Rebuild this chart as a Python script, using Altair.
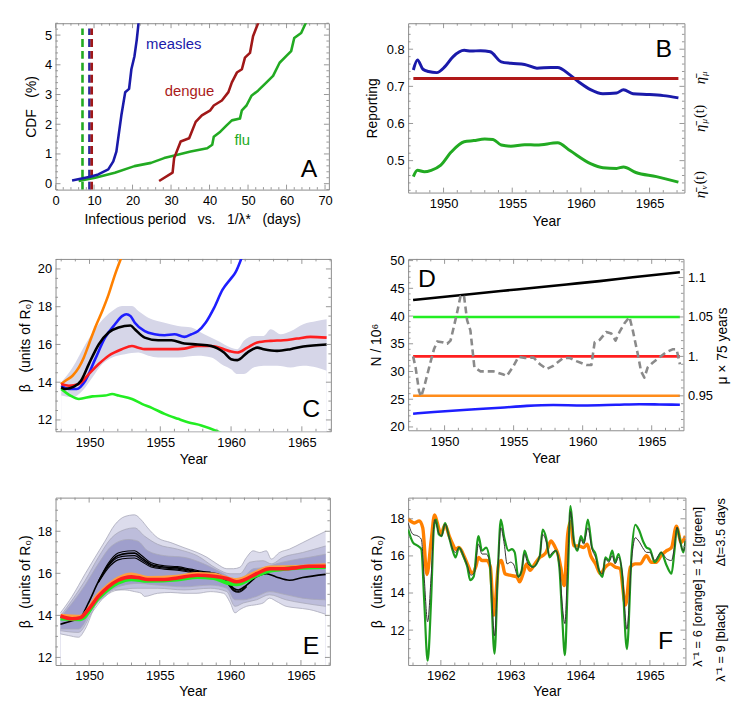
import altair as alt
import numpy as np
import pandas as pd

FONT = "Liberation Sans"
FRAME = "#8c8c8c"
NB = "\u00a0"

# ---------------- Panel A : CDF of infectious period ----------------
A_measles_x = [4.3, 9.0, 11.1, 13.7, 15.0, 15.8, 16.4, 17.1, 18.1, 19.1, 19.7, 20.5, 21.1, 21.6]
A_measles_y = [0.11, 0.23, 0.31, 0.48, 0.75, 1.08, 1.64, 2.30, 3.08, 3.19, 3.85, 4.29, 4.85, 5.45]
A_dengue_x = [26.9, 30.4, 30.8, 32.5, 34.7, 36.4, 38.0, 40.2, 41.1, 43.2, 44.9, 45.8, 47.1, 48.4, 49.2, 50.5, 51.3, 52.6, 53.0]
A_dengue_y = [0.09, 0.37, 0.86, 1.42, 1.53, 2.08, 2.30, 2.47, 2.63, 2.80, 3.08, 3.41, 3.74, 3.85, 4.24, 4.40, 4.96, 5.40, 5.50]
A_flu_x = [6.0, 10.3, 15.4, 20.5, 24.8, 28.2, 31.7, 35.1, 39.4, 40.7, 41.1, 42.8, 44.5, 45.8, 47.9, 48.4, 49.6, 50.9, 52.6, 54.8, 56.5, 58.2, 59.9, 61.2, 62.0, 63.8, 64.9, 65.3]
A_flu_y = [0.09, 0.20, 0.37, 0.59, 0.70, 0.86, 0.97, 1.08, 1.19, 1.31, 1.58, 1.75, 1.97, 2.13, 2.19, 2.47, 2.63, 2.96, 3.13, 3.41, 3.63, 4.07, 4.29, 4.46, 4.90, 5.07, 5.38, 5.50]
A_vlines_x = [7.0, 8.8, 9.4]
A_vlines_color = ["#22aa22", "#2a2aa0", "#a01818"]
A_vline_top = 5.22
A_labels = ["measles", "dengue", "flu"]
A_labels_x = [30.7, 34.8, 48.5]
A_labels_y = [4.70, 3.13, 1.47]
A_labels_color = ["#1a1aaa", "#aa1a1a", "#22aa22"]

# ---------------- Panel B : reporting ----------------
B_blue_x = [1947.8, 1948.1, 1948.5, 1948.9, 1949.5, 1950.1, 1950.7, 1951.5, 1952.0, 1952.7, 1953.4, 1954.2, 1954.9, 1955.9, 1956.8, 1957.8, 1958.3, 1959.2, 1959.95, 1960.7, 1961.6, 1962.6, 1963.1, 1963.8, 1965.0, 1966.0, 1967.1]
B_blue_y = [0.744, 0.771, 0.746, 0.740, 0.737, 0.753, 0.780, 0.797, 0.795, 0.796, 0.793, 0.766, 0.762, 0.759, 0.749, 0.751, 0.751, 0.731, 0.709, 0.691, 0.680, 0.682, 0.691, 0.680, 0.678, 0.675, 0.669]
B_green_x = [1947.8, 1948.1, 1948.6, 1949.1, 1949.8, 1950.55, 1951.5, 1952.2, 1953.0, 1953.6, 1954.2, 1954.9, 1955.9, 1956.8, 1958.3, 1959.2, 1960.7, 1961.6, 1962.6, 1963.1, 1964.0, 1965.5, 1967.1]
B_green_y = [0.457, 0.474, 0.470, 0.474, 0.488, 0.523, 0.551, 0.554, 0.558, 0.557, 0.542, 0.539, 0.543, 0.542, 0.548, 0.527, 0.492, 0.481, 0.479, 0.483, 0.468, 0.457, 0.442]
B_red_x = [1947.8, 1967.1]
B_red_y = [0.721, 0.721]

# ---------------- Panel C : beta estimates ----------------
C_orange_x = [1947.97, 1948.3, 1948.8, 1949.25, 1949.6, 1949.95, 1950.4, 1950.9, 1951.35, 1951.8, 1952.3]
C_orange_y = [13.9, 14.08, 14.34, 14.78, 15.31, 16.0, 16.9, 17.77, 18.65, 19.7, 20.7]
C_blue_x = [1948.0, 1948.55, 1949.1, 1949.7, 1950.4, 1951.1, 1951.8, 1952.3, 1952.6, 1952.9, 1953.2, 1953.9, 1954.6, 1955.3, 1956.0, 1956.7, 1957.2, 1957.65, 1958.2, 1958.8, 1959.4, 1960.0, 1960.3, 1960.8]
C_blue_y = [13.8, 13.64, 13.64, 14.08, 15.22, 16.36, 17.07, 17.5, 17.6, 17.5, 17.15, 16.7, 16.54, 16.49, 16.54, 16.4, 16.54, 16.7, 17.15, 17.94, 18.9, 19.5, 19.8, 20.7]
C_black_x = [1948.0, 1948.3, 1948.9, 1949.4, 1949.95, 1950.65, 1951.35, 1952.05, 1952.9, 1953.2, 1953.9, 1954.85, 1955.8, 1956.7, 1957.65, 1958.6, 1959.5, 1960.0, 1960.45, 1961.15, 1961.85, 1962.3, 1963.25, 1964.2, 1965.1, 1966.75]
C_black_y = [13.73, 13.64, 13.76, 14.08, 14.96, 16.0, 16.63, 16.9, 17.0, 16.8, 16.36, 16.22, 16.22, 16.05, 16.0, 15.92, 15.57, 15.22, 15.17, 15.57, 15.83, 15.75, 15.66, 15.75, 15.89, 16.0]
C_red_x = [1948.0, 1948.55, 1949.25, 1949.95, 1950.65, 1951.35, 1952.3, 1953.0, 1953.45, 1953.9, 1954.85, 1955.8, 1956.7, 1957.65, 1958.6, 1959.5, 1960.0, 1960.45, 1961.15, 1961.85, 1962.8, 1963.7, 1964.65, 1965.6, 1966.75]
C_red_y = [13.9, 13.81, 13.9, 14.43, 14.96, 15.4, 15.75, 15.92, 15.83, 15.75, 15.75, 15.75, 15.78, 15.92, 15.92, 15.75, 15.62, 15.57, 15.83, 16.1, 16.19, 16.22, 16.31, 16.4, 16.36]
C_green_x = [1948.0, 1948.65, 1949.25, 1950.2, 1951.1, 1951.6, 1952.05, 1953.0, 1953.7, 1954.4, 1955.3, 1956.25, 1956.95, 1957.9, 1959.05, 1959.3]
C_green_y = [13.64, 13.29, 13.11, 13.25, 13.29, 13.37, 13.29, 13.11, 12.85, 12.64, 12.32, 12.06, 11.88, 11.71, 11.39, 11.3]
C_band_hi_x = [1948.0, 1948.8, 1949.7, 1950.65, 1951.6, 1952.3, 1953.0, 1953.45, 1954.15, 1955.3, 1956.25, 1957.2, 1958.1, 1959.05, 1960.0, 1960.45, 1960.9, 1961.6, 1962.3, 1962.8, 1963.5, 1964.2, 1965.1, 1966.05, 1966.75]
C_band_hi_y = [13.99, 14.78, 16.0, 17.07, 17.77, 18.03, 18.03, 17.77, 17.42, 17.15, 16.98, 16.9, 16.54, 16.19, 15.83, 15.75, 16.19, 16.45, 16.45, 16.8, 16.54, 16.7, 17.07, 17.24, 17.33]
C_band_lo_x = [1948.0, 1948.8, 1949.5, 1950.2, 1950.9, 1951.6, 1952.5, 1953.45, 1954.15, 1954.85, 1956.25, 1957.65, 1958.6, 1959.5, 1960.0, 1960.45, 1960.9, 1961.6, 1962.3, 1963.25, 1964.2, 1965.1, 1966.05, 1966.75]
C_band_lo_y = [13.29, 13.2, 13.55, 14.25, 14.96, 15.31, 15.48, 15.57, 15.4, 15.31, 15.31, 15.4, 15.31, 14.87, 14.69, 14.43, 14.43, 14.78, 14.87, 14.87, 14.78, 14.87, 14.78, 14.6]

# ---------------- Panel D : population and birth rate ----------------
D_black_x = [1947.72, 1951.63, 1955.23, 1958.83, 1961.23, 1963.63, 1967.04]
D_black_y = [42.9, 43.9, 44.8, 45.7, 46.3, 47.0, 47.9]
D_blue_x = [1947.72, 1949.23, 1951.63, 1954.03, 1955.95, 1957.87, 1960.03, 1962.43, 1964.11, 1965.55, 1967.04]
D_blue_y = [22.39, 22.68, 23.1, 23.46, 23.8, 23.95, 23.88, 24.0, 24.1, 24.06, 24.0]
D_mu_levels = [1.05, 1.0, 0.95]
D_mu_colors = ["#22ee22", "#ff2020", "#ff8c1a"]
D_mu_span = [1947.72, 1967.04]
D_dash_x = [1947.72, 1947.9, 1948.15, 1948.3, 1948.5, 1948.75, 1949.0, 1949.23, 1949.47, 1949.83, 1950.19, 1950.43, 1950.67, 1950.9, 1951.15, 1951.4, 1951.63, 1951.87, 1952.16, 1952.6, 1953.55, 1954.27, 1954.5, 1955.0, 1955.35, 1955.83, 1956.43, 1956.91, 1957.39, 1957.87, 1958.59, 1959.07, 1959.55, 1960.27, 1960.63, 1960.87, 1961.23, 1961.71, 1962.07, 1962.38, 1962.67, 1963.03, 1963.39, 1963.63, 1963.99, 1964.23, 1964.47, 1964.71, 1965.07, 1965.55, 1966.03, 1966.51, 1966.8, 1967.04]
D_dash_y = [1.0, 0.986, 0.956, 0.949, 0.960, 0.977, 0.994, 1.009, 1.019, 1.018, 1.016, 1.020, 1.0375, 1.055, 1.076, 1.078, 1.046, 1.033, 0.986, 0.981, 0.981, 0.977, 0.975, 0.988, 0.9996, 0.998, 0.9987, 0.990, 0.984, 0.988, 0.998, 0.998, 0.994, 0.989, 0.989, 1.018, 1.021, 1.031, 1.029, 1.020, 1.031, 1.042, 1.050, 1.033, 1.003, 0.981, 0.973, 0.986, 0.992, 0.9987, 1.005, 1.009, 1.009, 0.990]

# ---------------- Panel E : beta with credible bands ----------------
E_outer_hi_x = [1947.97, 1948.79, 1949.72, 1950.42, 1951.12, 1951.82, 1952.52, 1953.22, 1953.69, 1954.15, 1954.85, 1955.79, 1956.72, 1957.65, 1958.35, 1959.05, 1959.75, 1960.22, 1960.68, 1961.15, 1961.62, 1962.08, 1962.55, 1962.9, 1963.48, 1964.18, 1965.12, 1966.05, 1966.75]
E_outer_hi_y = [14.12, 14.9, 15.98, 16.76, 17.53, 18.31, 18.7, 18.78, 18.54, 18.16, 17.69, 17.46, 17.22, 16.99, 16.76, 16.45, 16.22, 16.22, 16.29, 16.76, 17.07, 16.99, 17.07, 16.68, 16.99, 17.15, 17.46, 17.77, 18.0]
E_outer_lo_x = [1947.97, 1948.55, 1949.25, 1949.72, 1950.42, 1951.12, 1951.82, 1952.52, 1953.22, 1953.69, 1953.92, 1954.85, 1955.79, 1956.72, 1957.65, 1958.58, 1959.52, 1960.0, 1960.33, 1960.68, 1961.15, 1961.85, 1962.32, 1962.78, 1963.25, 1963.95, 1964.65, 1965.58, 1966.75]
E_outer_lo_y = [13.12, 13.04, 12.96, 13.35, 14.43, 14.9, 15.21, 15.21, 15.13, 15.05, 14.9, 15.05, 15.09, 15.05, 15.05, 15.13, 15.05, 14.59, 14.12, 14.28, 14.43, 14.51, 14.59, 14.82, 14.67, 14.43, 14.36, 14.28, 14.05]
E_mid_hi_x = [1947.97, 1949.72, 1950.65, 1951.59, 1952.52, 1953.22, 1953.92, 1954.85, 1956.25, 1957.65, 1959.05, 1959.98, 1960.68, 1961.38, 1962.32, 1962.9, 1963.72, 1965.12, 1966.75]
E_mid_hi_y = [13.97, 15.67, 16.76, 17.69, 18.08, 18.16, 17.77, 17.38, 17.15, 16.84, 16.22, 15.98, 15.98, 16.53, 16.6, 16.45, 16.76, 16.99, 17.3]
E_mid_lo_x = [1947.97, 1949.25, 1950.19, 1951.12, 1952.05, 1953.45, 1954.85, 1956.72, 1958.58, 1959.75, 1960.33, 1960.92, 1961.85, 1962.78, 1963.95, 1965.12, 1966.75]
E_mid_lo_y = [13.27, 13.19, 14.12, 14.9, 15.21, 15.29, 15.29, 15.21, 15.29, 15.13, 14.43, 14.59, 14.74, 14.98, 14.74, 14.59, 14.43]
E_in_hi_x = [1947.97, 1949.72, 1950.65, 1951.59, 1952.75, 1953.45, 1954.15, 1955.32, 1956.72, 1958.12, 1959.52, 1960.22, 1960.92, 1961.62, 1962.55, 1963.25, 1964.18, 1965.58, 1966.75]
E_in_hi_y = [13.89, 15.44, 16.45, 17.3, 17.61, 17.53, 17.07, 16.84, 16.76, 16.45, 15.98, 15.75, 15.83, 16.22, 16.29, 16.45, 16.6, 16.76, 16.91]
E_in_lo_x = [1947.97, 1949.25, 1950.19, 1951.12, 1952.05, 1953.45, 1954.85, 1956.72, 1958.58, 1959.75, 1960.33, 1960.92, 1961.85, 1962.78, 1963.95, 1965.12, 1966.75]
E_in_lo_y = [13.35, 13.35, 14.28, 14.98, 15.36, 15.52, 15.44, 15.36, 15.44, 15.29, 14.74, 14.74, 14.9, 15.13, 14.98, 14.82, 14.74]
E_black_x = [1947.97, 1948.79, 1949.37, 1949.95, 1950.65, 1951.35, 1952.05, 1952.75, 1953.22, 1953.69, 1954.39, 1955.32, 1956.25, 1957.18, 1958.12, 1959.05, 1959.75, 1960.22, 1960.57, 1961.15, 1961.85, 1962.55, 1963.25, 1964.18, 1965.12, 1966.75]
E_black_y = [13.58, 13.74, 13.89, 14.59, 15.6, 16.4, 16.85, 16.95, 16.96, 16.75, 16.42, 16.3, 16.26, 16.14, 16.03, 15.98, 15.67, 15.29, 15.21, 15.44, 15.83, 15.98, 15.83, 15.67, 15.8, 15.95]
E_black2_x = [1950.65, 1951.35, 1952.05, 1952.75, 1953.22, 1953.69, 1954.39, 1955.32, 1956.25, 1957.18, 1958.12, 1958.6]
E_black2_y = [15.62, 16.48, 16.97, 17.06, 17.07, 16.86, 16.5, 16.36, 16.32, 16.2, 16.08, 16.06]
E_black3_x = [1950.65, 1951.35, 1952.05, 1952.75, 1953.22, 1953.69, 1954.39, 1955.32, 1956.25, 1957.18, 1958.12, 1959.05, 1959.75, 1960.22, 1960.57, 1961.15]
E_black3_y = [15.58, 16.33, 16.75, 16.83, 16.84, 16.66, 16.36, 16.25, 16.2, 16.09, 15.99, 15.93, 15.6, 15.22, 15.14, 15.4]
E_black4_x = [1950.65, 1951.35, 1952.05, 1952.75, 1953.22, 1953.69, 1954.39, 1955.32, 1956.25, 1957.18, 1958.12, 1959.05, 1959.75, 1960.22, 1960.57, 1961.15]
E_black4_y = [15.55, 16.25, 16.64, 16.72, 16.73, 16.57, 16.3, 16.2, 16.15, 16.05, 15.95, 15.9, 15.55, 15.17, 15.1, 15.36]
E_red_x = [1947.97, 1948.79, 1949.37, 1949.95, 1950.65, 1951.35, 1952.05, 1952.99, 1953.45, 1954.15, 1955.32, 1956.25, 1957.65, 1958.82, 1959.75, 1960.45, 1960.92, 1961.85, 1962.78, 1963.72, 1964.65, 1965.58, 1966.75]
E_red_y = [13.97, 13.84, 13.89, 14.28, 14.9, 15.36, 15.67, 15.83, 15.8, 15.71, 15.71, 15.78, 15.91, 15.86, 15.75, 15.6, 15.67, 15.98, 16.22, 16.22, 16.26, 16.34, 16.34]
E_orange_x = [1947.97, 1949.37, 1950.65, 1952.05, 1952.99, 1954.15, 1956.25, 1957.65, 1958.82, 1960.45, 1961.85, 1962.78, 1964.65, 1966.75]
E_orange_y = [13.98, 13.93, 14.97, 15.75, 15.95, 15.78, 15.84, 15.97, 15.93, 15.68, 16.05, 16.28, 16.3, 16.38]
E_green_x = [1947.97, 1949.37, 1950.65, 1952.05, 1952.99, 1954.15, 1956.25, 1957.65, 1958.82, 1959.75, 1960.45, 1961.85, 1962.78, 1963.72, 1964.65, 1966.75]
E_green_y = [13.85, 13.82, 14.82, 15.55, 15.72, 15.64, 15.7, 15.83, 15.78, 15.55, 15.48, 15.9, 16.12, 16.2, 16.25, 16.3]

# ---------------- Panel F : beta, 1961-1965 ----------------
F_orange = [(1961.53, 18.0), (1961.62, 17.77), (1961.69, 17.89), (1961.74, 17.51), (1961.8, 15.0), (1961.86, 16.8),
            (1961.91, 18.21), (1961.95, 17.77), (1962.0, 17.16), (1962.06, 17.68), (1962.12, 17.07), (1962.17, 16.63),
            (1962.21, 16.36), (1962.26, 16.45), (1962.33, 16.01), (1962.38, 15.57), (1962.45, 15.08), (1962.5, 15.4),
            (1962.54, 15.92), (1962.59, 15.75), (1962.66, 15.75), (1962.71, 15.4), (1962.76, 12.8), (1962.83, 15.57),
            (1962.87, 15.75), (1962.92, 15.04), (1962.99, 14.96), (1963.09, 14.87), (1963.13, 14.6), (1963.18, 15.04),
            (1963.23, 15.57), (1963.28, 15.22), (1963.35, 15.57), (1963.42, 15.92), (1963.46, 16.01), (1963.51, 16.19),
            (1963.58, 16.8), (1963.63, 16.54), (1963.68, 16.1), (1963.72, 15.4), (1963.77, 14.4), (1963.82, 17.16),
            (1963.86, 17.86), (1963.91, 16.54), (1963.98, 16.54), (1964.05, 16.45), (1964.1, 16.63), (1964.15, 16.01),
            (1964.22, 15.57), (1964.29, 15.04), (1964.36, 15.4), (1964.43, 15.57), (1964.5, 15.4), (1964.57, 15.31),
            (1964.65, 13.35), (1964.72, 15.4), (1964.79, 15.57), (1964.86, 15.57), (1964.95, 16.01), (1965.02, 15.66),
            (1965.09, 15.66), (1965.16, 16.01), (1965.24, 16.28), (1965.31, 16.45), (1965.38, 17.6), (1965.45, 16.72),
            (1965.51, 17.07)]
F_green = [(1961.53, 17.42), (1961.6, 16.72), (1961.67, 16.54), (1961.72, 16.36), (1961.76, 13.64), (1961.81, 10.35),
           (1961.86, 13.64), (1961.9, 17.51), (1961.93, 17.95), (1961.97, 17.16), (1962.01, 17.07), (1962.06, 17.77),
           (1962.12, 16.98), (1962.17, 16.28), (1962.21, 15.92), (1962.26, 16.45), (1962.33, 15.92), (1962.38, 15.4),
           (1962.42, 14.69), (1962.47, 14.87), (1962.54, 17.07), (1962.59, 16.28), (1962.65, 16.45), (1962.7, 15.75),
           (1962.77, 10.73), (1962.82, 15.4), (1962.86, 17.95), (1962.91, 16.98), (1962.97, 16.28), (1963.02, 16.36),
           (1963.06, 16.19), (1963.11, 14.87), (1963.16, 15.22), (1963.2, 16.28), (1963.25, 15.75), (1963.32, 15.4),
           (1963.42, 16.01), (1963.46, 17.42), (1963.51, 16.98), (1963.56, 15.92), (1963.6, 16.1), (1963.65, 16.28),
           (1963.7, 15.4), (1963.74, 12.76), (1963.78, 10.65), (1963.82, 14.52), (1963.86, 18.69), (1963.91, 16.8),
           (1963.96, 16.28), (1964.01, 17.07), (1964.05, 16.72), (1964.11, 17.95), (1964.17, 16.45), (1964.22, 16.1),
           (1964.27, 15.22), (1964.32, 14.87), (1964.36, 15.92), (1964.41, 15.75), (1964.46, 16.28), (1964.5, 15.66),
           (1964.55, 16.1), (1964.6, 15.04), (1964.67, 10.98), (1964.74, 16.28), (1964.79, 17.68), (1964.84, 17.42),
           (1964.91, 16.72), (1964.95, 16.45), (1965.0, 16.36), (1965.07, 15.66), (1965.12, 15.92), (1965.16, 16.19),
           (1965.24, 15.48), (1965.31, 15.04), (1965.35, 16.19), (1965.39, 17.51), (1965.43, 16.89), (1965.48, 16.19),
           (1965.51, 16.8)]
F_black = [(1961.53, 17.77), (1961.6, 17.16), (1961.67, 17.07), (1961.72, 16.89), (1961.76, 14.87), (1961.81, 12.45),
           (1961.86, 14.87), (1961.91, 17.95), (1961.97, 17.24), (1962.01, 17.07), (1962.06, 17.72), (1962.12, 16.98),
           (1962.17, 16.36), (1962.21, 16.19), (1962.26, 16.45), (1962.33, 15.96), (1962.38, 15.48), (1962.43, 14.96),
           (1962.48, 15.08), (1962.54, 16.63), (1962.59, 16.1), (1962.65, 16.1), (1962.7, 15.66), (1962.77, 11.7),
           (1962.82, 15.4), (1962.86, 17.51), (1962.91, 16.63), (1962.95, 15.57), (1963.0, 15.66), (1963.04, 15.57),
           (1963.11, 14.87), (1963.16, 15.22), (1963.2, 16.1), (1963.25, 15.57), (1963.32, 15.4), (1963.42, 16.01),
           (1963.46, 17.16), (1963.51, 16.8), (1963.56, 16.01), (1963.6, 16.19), (1963.65, 16.28), (1963.7, 15.57),
           (1963.74, 13.46), (1963.78, 12.35), (1963.82, 15.57), (1963.86, 18.39), (1963.91, 16.72), (1963.96, 16.36),
           (1964.01, 16.89), (1964.05, 16.63), (1964.11, 17.51), (1964.17, 16.36), (1964.22, 15.92), (1964.27, 15.22),
           (1964.32, 15.04), (1964.36, 15.84), (1964.41, 15.66), (1964.46, 16.01), (1964.5, 15.57), (1964.55, 15.92),
           (1964.6, 15.22), (1964.67, 12.05), (1964.74, 15.92), (1964.79, 16.98), (1964.84, 16.8), (1964.91, 16.36),
           (1964.95, 16.19), (1965.0, 16.19), (1965.07, 15.75), (1965.12, 16.01), (1965.16, 16.19), (1965.24, 15.84),
           (1965.31, 15.75), (1965.35, 16.45), (1965.39, 17.54), (1965.43, 16.8), (1965.48, 16.28), (1965.51, 16.89)]

YEAR_TICKS = [1950, 1955, 1960, 1965]


# ---------------- helpers ----------------
def scl(lo, hi):
    return alt.Scale(domain=[lo, hi], nice=False, zero=False)


def minors(lo, hi, step, majors):
    vals = np.round(np.arange(lo, hi + 1e-9, step), 4)
    return [float(v) for v in vals if all(abs(v - m) > 1e-6 for m in majors)]


def X(P, field):
    return alt.X(field, scale=P["xs"], axis=P["xa"])


def Y(P, field):
    return alt.Y(field, scale=P["ys"], axis=P["ya"])


def line(xs, ys, P, color, width, dash=None, interp="monotone"):
    df = pd.DataFrame({"x": xs, "y": ys})
    props = dict(color=color, strokeWidth=width, clip=True, interpolate=interp, strokeJoin="round")
    if dash is not None:
        props["strokeDash"] = dash
    return alt.Chart(df).mark_line(**props).encode(x=X(P, "x:Q"), y=Y(P, "y:Q"), order="x:Q")


def fill_down(xs, ys, P, color, h):
    df = pd.DataFrame({"x": xs, "y": ys})
    return alt.Chart(df).mark_area(color=color, opacity=1, clip=True, interpolate="monotone").encode(
        x=X(P, "x:Q"), y=Y(P, "y:Q"), y2=alt.value(h))


def rule_x(vals, P, y0, y1):
    return alt.Chart(pd.DataFrame({"v": vals})).mark_rule(color=FRAME, strokeWidth=0.9).encode(
        x=X(P, "v:Q"), y=alt.value(y0), y2=alt.value(y1))


def rule_y(vals, P, x0, x1):
    return alt.Chart(pd.DataFrame({"v": vals})).mark_rule(color=FRAME, strokeWidth=0.9).encode(
        y=Y(P, "v:Q"), x=alt.value(x0), x2=alt.value(x1))


def xticks(P, h, maj, mnr):
    return [rule_x(maj, P, h, h - 5), rule_x(maj, P, 0, 5),
            rule_x(mnr, P, h, h - 2.5), rule_x(mnr, P, 0, 2.5)]


def yticks(P, w, maj, mnr, sides=("left", "right")):
    out = []
    if "left" in sides:
        out += [rule_y(maj, P, 0, 5), rule_y(mnr, P, 0, 2.5)]
    if "right" in sides:
        out += [rule_y(maj, P, w, w - 5), rule_y(mnr, P, w, w - 2.5)]
    return out


def xax(title, values, fmt="d", tp=4):
    return alt.Axis(title=title, values=values, format=fmt, ticks=False, domain=False, grid=False,
                    labelPadding=5, titlePadding=tp, labelFlush=False, labelOverlap=False)


def yax(title, values, fmt="d", tp=5, **kw):
    return alt.Axis(title=title, values=values, format=fmt, ticks=False, domain=False, grid=False,
                    labelPadding=4, titlePadding=tp, labelFlush=False, labelOverlap=False, **kw)


def txt(s, x, y, size=14, color="black", angle=None, align="center", style=None, font=FONT):
    kw = dict(text=s, fontSize=size, color=color, align=align, baseline="middle", font=font)
    if angle is not None:
        kw["angle"] = angle
    if style is not None:
        kw["fontStyle"] = style
    return alt.Chart(pd.DataFrame({"k": [0]})).mark_text(**kw).encode(x=alt.value(x), y=alt.value(y))


def letter(s, x, y):
    return txt(s, x, y, size=25)


BETA_TITLE = f"β{NB} {NB}(units of R₀)"

# ---------------- Panel A ----------------
WA, HA = 276, 168
A_MAJ_X = list(range(0, 71, 10))
A_MAJ_Y = [0, 1, 2, 3, 4, 5]
PA = dict(xs=scl(0, 71), ys=scl(-0.2, 5.4),
          xa=xax(f"Infectious period{NB} {NB}vs.{NB} {NB}1/λ*{NB} {NB}(days)", A_MAJ_X, tp=5),
          ya=yax(f"CDF{NB} {NB}(%)", A_MAJ_Y, tp=6))
a_layers = []
for vx, vc in zip(A_vlines_x, A_vlines_color):
    a_layers.append(alt.Chart(pd.DataFrame({"x": [vx], "y0": [-0.2], "y1": [A_vline_top]}))
                    .mark_rule(color=vc, strokeWidth=2.6, strokeDash=[8, 4])
                    .encode(x=X(PA, "x:Q"), y=Y(PA, "y0:Q"), y2="y1:Q"))
a_layers += [line(A_flu_x, A_flu_y, PA, "#22aa22", 2.6, interp="linear"),
             line(A_dengue_x, A_dengue_y, PA, "#a01818", 2.6, interp="linear"),
             line(A_measles_x, A_measles_y, PA, "#1a1aaa", 2.6, interp="linear")]
a_lab = pd.DataFrame({"t": A_labels, "x": A_labels_x, "y": A_labels_y, "c": A_labels_color})
a_layers.append(alt.Chart(a_lab).mark_text(font=FONT, fontSize=15, baseline="middle", align="center").encode(
    x=X(PA, "x:Q"), y=Y(PA, "y:Q"), text="t:N", color=alt.Color("c:N", scale=None)))
a_layers.append(letter("A", 256, 147))
a_layers += xticks(PA, HA, A_MAJ_X, minors(2, 70, 2, A_MAJ_X))
a_layers += yticks(PA, WA, A_MAJ_Y, minors(-0.2, 5.4, 0.2, A_MAJ_Y))
panelA = alt.layer(*a_layers).properties(width=WA, height=HA)

# ---------------- Panel B ----------------
WB, HB = 279, 171
B_MAJ_Y = [0.5, 0.6, 0.7, 0.8]
PB = dict(xs=scl(1947.42, 1967.54), ys=scl(0.414, 0.87),
          xa=xax("Year", YEAR_TICKS), ya=yax("Reporting", B_MAJ_Y, fmt=".1f", tp=7))
b_layers = [line(B_green_x, B_green_y, PB, "#22aa22", 3),
            line(B_blue_x, B_blue_y, PB, "#1a1aaa", 3),
            line(B_red_x, B_red_y, PB, "#b01818", 3, interp="linear"),
            letter("B", 258, 26)]
for base_y, sub in [(63, "μ"), (111, "μ"), (178, "ν")]:
    b_layers.append(txt("η\u0304", 295, base_y - 5, size=15, angle=270, font="Liberation Serif", style="italic"))
    b_layers.append(txt(sub, 299, base_y - 12, size=9, angle=270, font="Liberation Serif", style="italic"))
for base_y in [111, 178]:
    b_layers.append(txt("(t)", 295, base_y - 22, size=14, angle=270, font="Liberation Serif"))
b_layers += xticks(PB, HB, YEAR_TICKS, minors(1948, 1967, 1, YEAR_TICKS))
b_layers += yticks(PB, WB, B_MAJ_Y, minors(0.42, 0.86, 0.02, B_MAJ_Y))
panelB = alt.layer(*b_layers).properties(width=WB, height=HB)

# ---------------- Panel C ----------------
WC, HC = 278, 174
C_MAJ_Y = [12, 14, 16, 18, 20]
PC = dict(xs=scl(1947.6, 1967.05), ys=scl(11.4, 20.53),
          xa=xax("Year", YEAR_TICKS), ya=yax(BETA_TITLE, C_MAJ_Y, tp=5))
c_layers = [fill_down(C_band_hi_x, C_band_hi_y, PC, "#d6d6e8", HC),
            fill_down(C_band_lo_x, C_band_lo_y, PC, "white", HC),
            line(C_green_x, C_green_y, PC, "#22ee22", 2.6),
            line(C_orange_x, C_orange_y, PC, "#ff8000", 2.6),
            line(C_blue_x, C_blue_y, PC, "#1e1eff", 2.6),
            line(C_red_x, C_red_y, PC, "#ff1e1e", 2.6),
            line(C_black_x, C_black_y, PC, "black", 2.6),
            letter("C", 258, 152)]
c_layers += xticks(PC, HC, YEAR_TICKS, minors(1948, 1967, 1, YEAR_TICKS))
c_layers += yticks(PC, WC, C_MAJ_Y, minors(11.5, 20.5, 0.5, C_MAJ_Y))
panelC = alt.layer(*c_layers).properties(width=WC, height=HC)

# ---------------- Panel D ----------------
WD, HD = 278, 173
D_MAJ_L = [20, 25, 30, 35, 40, 45, 50]
D_MAJ_R = [0.95, 1.0, 1.05, 1.1]
D_XA = xax("Year", YEAR_TICKS)
PDL = dict(xs=scl(1947.36, 1967.3), ys=scl(19.4, 50.3), xa=D_XA,
           ya=yax(f"N{NB}/{NB}10⁶", D_MAJ_L, tp=6))
PDR = dict(xs=scl(1947.36, 1967.3), ys=scl(0.9063, 1.1236), xa=D_XA,
           ya=yax(None, D_MAJ_R, fmt=".2f", orient="right",
                  labelExpr="datum.value == 1 ? '1.' : format(datum.value, '.2~f')"))
d_left = [line(D_black_x, D_black_y, PDL, "black", 2.6),
          line(D_blue_x, D_blue_y, PDL, "#1e1eff", 2.6),
          letter("D", 19, 20)]
d_left += xticks(PDL, HD, YEAR_TICKS, minors(1948, 1967, 1, YEAR_TICKS))
d_left += yticks(PDL, WD, D_MAJ_L, minors(20, 50, 1, D_MAJ_L), sides=("left",))
d_right = []
for lvl, col in zip(D_mu_levels, D_mu_colors):
    d_right.append(line(D_mu_span, [lvl, lvl], PDR, col, 2.6, interp="linear"))
d_right.append(line(D_dash_x, D_dash_y, PDR, "#8a8a8a", 2.6, dash=[7, 4], interp="linear"))
d_right += yticks(PDR, WD, D_MAJ_R, minors(0.91, 1.12, 0.01, D_MAJ_R), sides=("right",))
d_right.append(txt("μ × 75 years", 318, 88, size=14, angle=270))
panelD = alt.layer(alt.layer(*d_left), alt.layer(*d_right)).resolve_scale(y="independent").properties(
    width=WD, height=HD)

# ---------------- Panel E ----------------
WE, HE = 277, 169
E_MAJ_Y = [12, 14, 16, 18]
PE = dict(xs=scl(1947.62, 1967.05), ys=scl(11.64, 19.6),
          xa=xax("Year", YEAR_TICKS, tp=2), ya=yax(BETA_TITLE, E_MAJ_Y, tp=5))
C_OUT, C_MID, C_IN = "#dcdcec", "#bdbddb", "#9f9fcc"
e_layers = [fill_down(E_outer_hi_x, E_outer_hi_y, PE, C_OUT, HE),
            fill_down(E_mid_hi_x, E_mid_hi_y, PE, C_MID, HE),
            fill_down(E_in_hi_x, E_in_hi_y, PE, C_IN, HE),
            fill_down(E_in_lo_x, E_in_lo_y, PE, C_MID, HE),
            fill_down(E_mid_lo_x, E_mid_lo_y, PE, C_OUT, HE),
            fill_down(E_outer_lo_x, E_outer_lo_y, PE, "white", HE)]
for ex, ey in [(E_outer_hi_x, E_outer_hi_y), (E_mid_hi_x, E_mid_hi_y), (E_in_hi_x, E_in_hi_y),
               (E_in_lo_x, E_in_lo_y), (E_mid_lo_x, E_mid_lo_y), (E_outer_lo_x, E_outer_lo_y)]:
    e_layers.append(line(ex, ey, PE, "#a9a9b9", 0.8))
e_layers += [line(E_black2_x, E_black2_y, PE, "black", 1.1),
             line(E_black3_x, E_black3_y, PE, "black", 1.1),
             line(E_black4_x, E_black4_y, PE, "black", 1.1),
             line(E_black_x, E_black_y, PE, "black", 1.6),
             line(E_orange_x, E_orange_y, PE, "#ffa040", 4),
             line(E_green_x, E_green_y, PE, "#22ee22", 4),
             line(E_red_x, E_red_y, PE, "#ff1e1e", 3.6),
             letter("E", 258, 150)]
e_layers += xticks(PE, HE, YEAR_TICKS, minors(1948, 1967, 1, YEAR_TICKS))
e_layers += yticks(PE, WE, E_MAJ_Y, minors(12, 19.5, 0.5, E_MAJ_Y))
panelE = alt.layer(*e_layers).properties(width=WE, height=HE)

# ---------------- Panel F ----------------
WF, HF = 280, 169
F_YEARS = [1962, 1963, 1964, 1965]
F_MAJ_Y = [12, 14, 16, 18]
PF = dict(xs=scl(1961.53, 1965.51), ys=scl(10.12, 19.14),
          xa=xax("Year", F_YEARS, tp=2), ya=yax(BETA_TITLE, F_MAJ_Y, tp=5))
f_layers = [line([p[0] for p in F_orange], [p[1] for p in F_orange], PF, "#ff8000", 3.4),
            line([p[0] for p in F_green], [p[1] for p in F_green], PF, "#1e9e1e", 2.2),
            line([p[0] for p in F_black], [p[1] for p in F_black], PF, "#333333", 1.0),
            letter("F", 260, 145),
            txt("λ⁻¹ = 6 [orange] = 12 [green]", 293, 90, size=13, angle=270),
            txt("λ⁻¹ = 9 [black]", 316, 147, size=13, angle=270),
            txt("Δt=3.5 days", 316, 35, size=13, angle=270)]
f_layers += xticks(PF, HF, F_YEARS, minors(1961.6, 1965.4, 0.2, F_YEARS))
f_layers += yticks(PF, WF, F_MAJ_Y, minors(10.5, 19, 0.5, F_MAJ_Y))
panelF = alt.layer(*f_layers).properties(width=WF, height=HF)

# ---------------- assemble ----------------
chart = alt.concat(panelA, panelB, panelC, panelD, panelE, panelF, columns=2,
                   spacing={"row": 67, "column": 78}, bounds="flush")
chart = chart.properties(padding={"left": 10, "top": 11, "right": 0, "bottom": 0}).configure_view(
    stroke=FRAME, strokeWidth=1).configure_axis(
    labelFont=FONT, titleFont=FONT, labelFontSize=13, titleFontSize=14, labelColor="black",
    titleColor="black", titleFontWeight="normal")

chart.save("out.html", embed_options={"renderer": "svg", "actions": False})
